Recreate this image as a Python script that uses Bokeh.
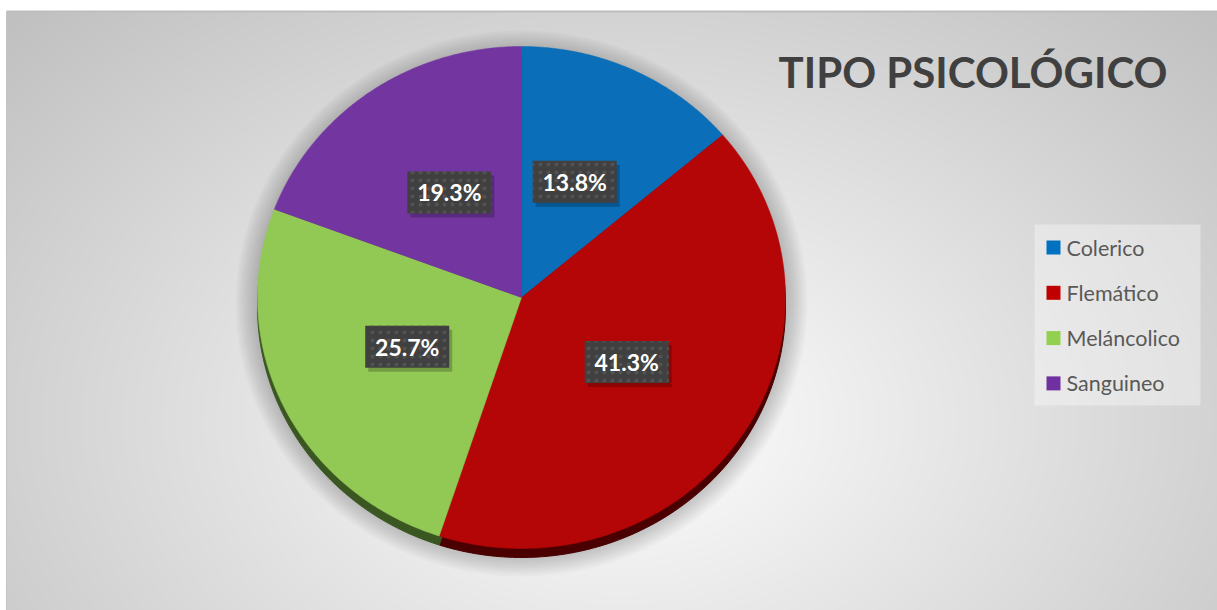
import numpy as np
from bokeh.plotting import figure
from bokeh.models import Range1d
from bokeh.core.properties import value
from bokeh.embed import file_html
from bokeh.resources import INLINE

# ---- data ----
categories = ["Colerico", "Flemático", "Meláncolico", "Sanguineo"]
percentages = [13.8, 41.3, 25.7, 19.3]
face_colors = ["#0A6EB8", "#B40606", "#92C955", "#7336A0"]
legend_colors = ["#0070C0", "#C00000", "#92D050", "#7030A0"]
rim_colors = ["#04365A", "#4A0000", "#3A5722", "#34164A"]
title_text = "TIPO  PSICOLÓGICO"

# ---- layout (page pixel coordinates; data y = 610 - page y) ----
W_FIG, H_FIG = 1217, 610
def Y(py):
    return 610 - py

CX, CY, RX, RY = 521, 297, 264, 251
RIM = 9

p = figure(width=W_FIG, height=H_FIG, x_range=Range1d(0, W_FIG), y_range=Range1d(0, H_FIG),
           output_backend="svg", toolbar_location=None, min_border=0,
           x_axis_location=None, y_axis_location=None)
p.grid.visible = False
p.outline_line_color = None
p.background_fill_color = "white"
p.border_fill_color = "white"

# ---- radial gradient background ----
X0, X1, PY0, PY1 = 6, 1217, 11, 610
gw, gh = 606, 300
px = X0 + (np.arange(gw) + 0.5) * (X1 - X0) / gw
py = PY1 - (np.arange(gh) + 0.5) * (PY1 - PY0) / gh
PX, PY = np.meshgrid(px, py)
r = np.sqrt(((PX - 620) / 700) ** 2 + ((PY - 420) / 480) ** 2)
g = np.clip(255 - 52 * r, 0, 255).astype(np.uint32)
img = (np.uint32(255) << 24) | (g << 16) | (g << 8) | g
p.image_rgba(image=[img], x=X0, y=Y(PY1), dw=X1 - X0, dh=PY1 - PY0)
p.segment(x0=[X0], y0=[Y(PY0)], x1=[X1], y1=[Y(PY0)], line_color="#bdbdbd", line_width=2)
p.segment(x0=[X0], y0=[Y(PY0)], x1=[X0], y1=[Y(PY1)], line_color="#c4c4c4", line_width=1)

# ---- pie shadow ----
for k in range(0, 24, 2):
    p.ellipse(x=CX, y=Y(CY + 6), width=2 * (RX + k), height=2 * (RY + k),
              fill_color="black", fill_alpha=0.018, line_color=None)

# ---- slices ----
fr = np.array(percentages) / sum(percentages)
ends = np.cumsum(fr) * 2 * np.pi
starts = ends - fr * 2 * np.pi
xs, ys, rxs, rys = [], [], [], []
for a0, a1 in zip(starts, ends):
    t = np.linspace(a0, a1, 120)
    x = np.concatenate([[CX], CX + RX * np.sin(t)])
    yp = np.concatenate([[CY], CY - RY * np.cos(t)])
    xs.append(list(x)); ys.append(list(Y(yp)))
    rxs.append(list(x)); rys.append(list(Y(yp + RIM)))

p.patches(rxs, rys, fill_color=rim_colors, line_color=rim_colors, line_width=1)
p.patches(xs, ys, fill_color=face_colors, line_color=face_colors, line_width=0.5)

# ---- data labels ----
mids = (starts + ends) / 2
lx = CX + 0.48 * RX * np.sin(mids)
ly = Y(CY - 4 - 0.49 * RY * np.cos(mids))
labels = [f"{v:.1f}%" for v in percentages]
p.rect(x=lx + 3, y=ly - 4, width=84, height=42, width_units="screen", height_units="screen",
       fill_color="black", fill_alpha=0.22, line_color=None)
p.rect(x=lx, y=ly, width=84, height=42, width_units="screen", height_units="screen",
       fill_color="#404040", line_color=None,
       hatch_pattern="dot", hatch_color="#525252", hatch_scale=8, hatch_weight=1.5)
p.text(x=lx, y=ly, text=labels, text_align="center", text_baseline="middle",
       text_color="white", text_font=value("Lato"), text_font_style="bold", text_font_size="23px")

# ---- title ----
p.text(x=[778], y=[Y(71)], text=[title_text], text_align="left", text_baseline="middle",
       text_color="#404040", text_font=value("Lato"), text_font_style="bold", text_font_size="42px")

# ---- legend ----
p.quad(left=[1034], right=[1200], top=[Y(224)], bottom=[Y(405)],
       fill_color="white", fill_alpha=0.35, line_color=None)
idx = np.arange(len(categories))
leg_y = Y(247 + 45.3 * idx)
p.rect(x=1053, y=leg_y, width=14, height=14, fill_color=legend_colors, line_color=None)
p.text(x=1066, y=leg_y, text=categories, text_align="left", text_baseline="middle",
       text_color="#595959", text_font=value("Lato"), text_font_size="21.5px")

open("out.html", "w").write(file_html(p, INLINE))
